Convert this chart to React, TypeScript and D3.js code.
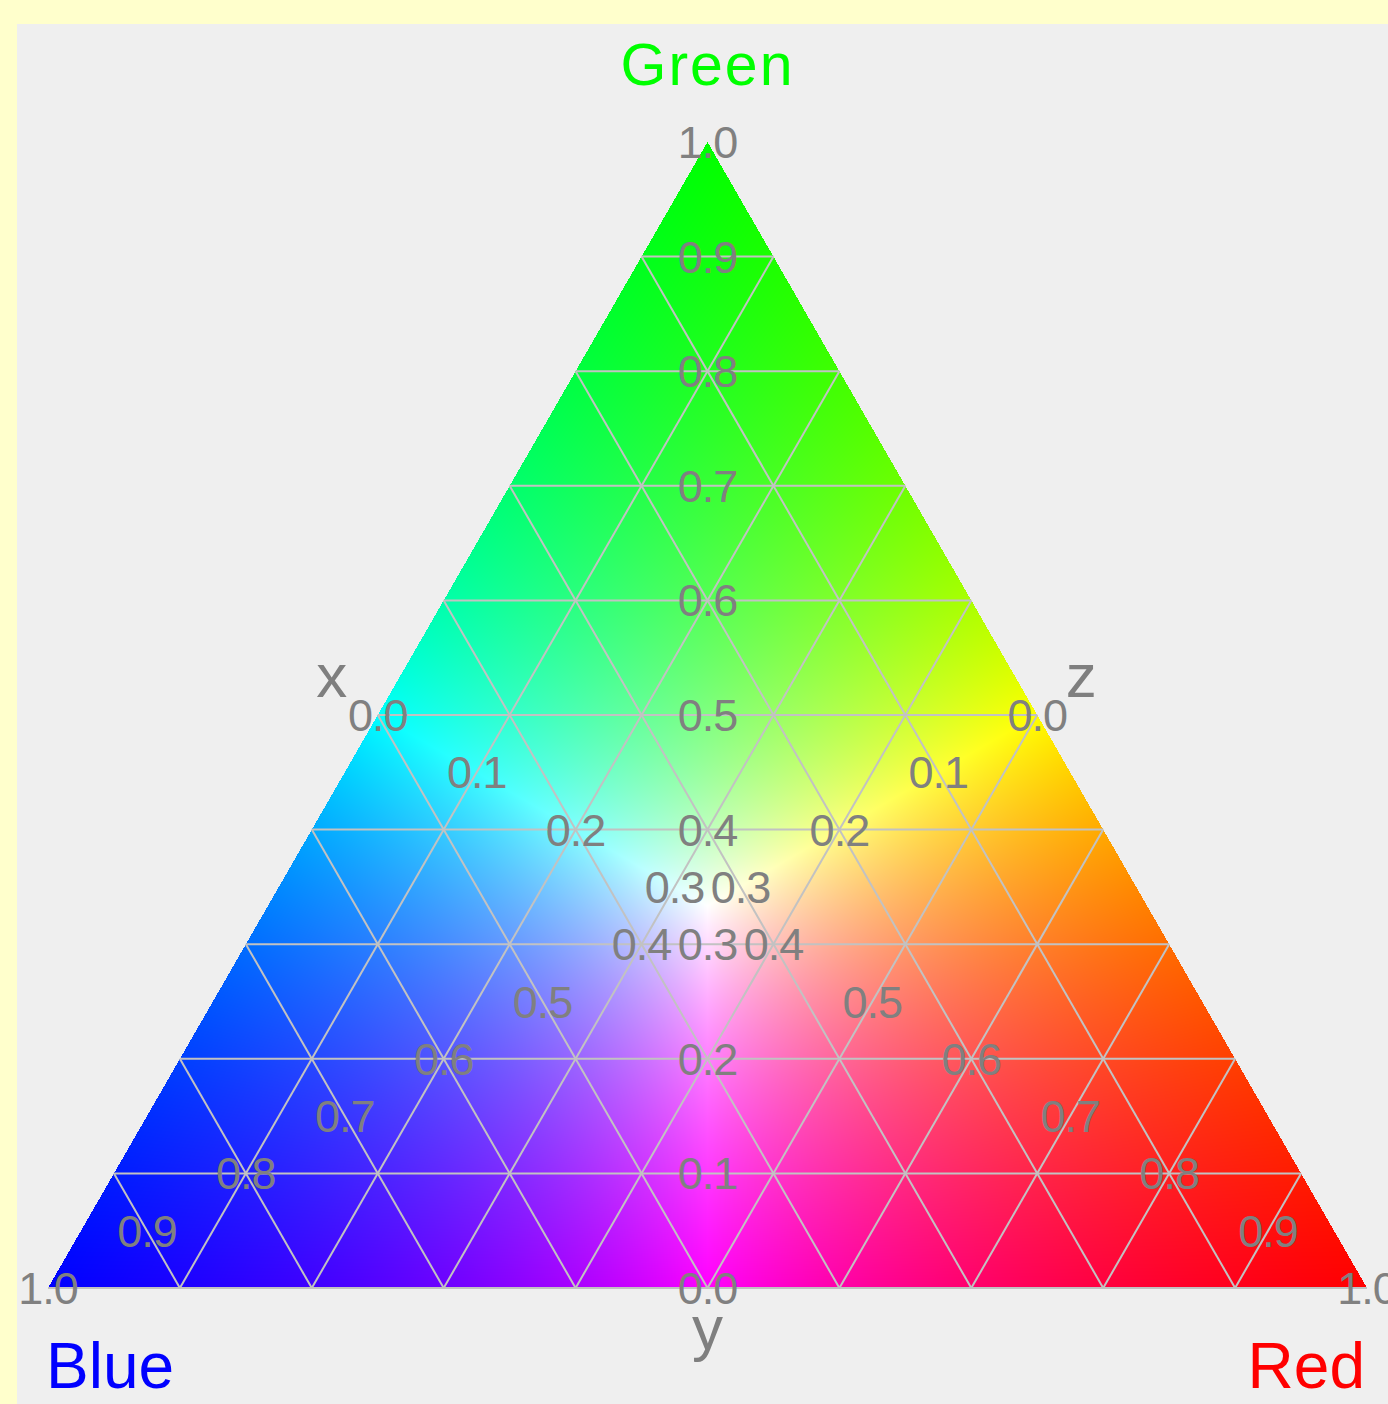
import React, { useMemo } from 'react';
import * as d3 from 'd3';

// tick values shared by the three axes
const tickValues = [0, 0.1, 0.2, 0.3, 0.4, 0.5, 0.6, 0.7, 0.8, 0.9, 1.0];
// grid levels for the three families of lines
const gridLevels = [0.1, 0.2, 0.3, 0.4, 0.5, 0.6, 0.7, 0.8, 0.9];
// corner names: blue bottom-left, red bottom-right, green top
const cornerNames = ['Blue', 'Red', 'Green'];
const cornerColors = ['#0000ff', '#ff0000', '#00ff00'];
const axisNames = ['x', 'y', 'z'];

const WIDTH = 1388;
const HEIGHT = 1404;

// ternary frame: r + g/2 along the bottom, g upward
const xScale = d3.scaleLinear().domain([0, 1]).range([48, 1367]);
const yScale = d3.scaleLinear().domain([0, 1]).range([1288, 142]);

const project = (r: number, g: number, b: number): [number, number] => [xScale(r + g / 2), yScale(g)];

const GRID = '#c2c2c2';
const LABEL = '#808080';
const FONT = '"Liberation Sans", Arial, Helvetica, sans-serif';

function useTriangleImage() {
  return useMemo(() => {
    const x0 = Math.floor(xScale(0));
    const x1 = Math.ceil(xScale(1));
    const y0 = Math.floor(yScale(1));
    const y1 = Math.ceil(yScale(0));
    const w = x1 - x0;
    const h = y1 - y0;
    const canvas = document.createElement('canvas');
    canvas.width = w;
    canvas.height = h;
    const ctx = canvas.getContext('2d');
    if (!ctx) return null;
    const img = ctx.createImageData(w, h);
    for (let j = 0; j < h; j++) {
      const g = yScale.invert(y0 + j + 0.5);
      for (let i = 0; i < w; i++) {
        const r = xScale.invert(x0 + i + 0.5) - g / 2;
        const b = 1 - r - g;
        const k = (j * w + i) * 4;
        if (r < 0 || g < 0 || b < 0) {
          img.data[k + 3] = 0;
          continue;
        }
        const m = Math.max(r, g, b);
        img.data[k] = Math.round((r / m) * 255);
        img.data[k + 1] = Math.round((g / m) * 255);
        img.data[k + 2] = Math.round((b / m) * 255);
        img.data[k + 3] = 255;
      }
    }
    ctx.putImageData(img, 0, 0);
    return { href: canvas.toDataURL(), x: x0, y: y0, w, h };
  }, []);
}

const App = () => {
  const tri = useTriangleImage();

  // grid segments
  const lines: [number, number, number, number][] = [];
  const bottomA = project(0, 0, 1);
  const bottomB = project(1, 0, 0);
  lines.push([bottomA[0], bottomA[1], bottomB[0], bottomB[1]]);
  gridLevels.forEach(t => {
    const a = project(0, t, 1 - t), b = project(1 - t, t, 0);
    lines.push([a[0], a[1], b[0], b[1]]);
    const c = project(1 - t, 0, t), d = project(0, 1 - t, t);
    lines.push([c[0], c[1], d[0], d[1]]);
    const e = project(t, 0, 1 - t), f = project(t, 1 - t, 0);
    lines.push([e[0], e[1], f[0], f[1]]);
  });

  // tick label placement along the medians
  const onRedMedian = (v: number) => project(v, (1 - v) / 2, (1 - v) / 2);
  const onBlueMedian = (v: number) => project((1 - v) / 2, (1 - v) / 2, v);
  const onGreenMedian = (v: number) => project((1 - v) / 2, v, (1 - v) / 2);

  const ticks: { key: string; pos: [number, number]; text: string }[] = [];
  tickValues.forEach(v => {
    const text = v.toFixed(1);
    ticks.push({ key: 'x' + text, pos: v <= 0.3 ? onRedMedian(v) : onBlueMedian(v), text });
    ticks.push({ key: 'y' + text, pos: onGreenMedian(v), text });
    ticks.push({ key: 'z' + text, pos: v <= 0.3 ? onBlueMedian(v) : onRedMedian(v), text });
  });

  const xTitle = onRedMedian(0);
  const zTitle = onBlueMedian(0);
  const yTitle = onGreenMedian(0);

  const pts = [project(0, 0, 1), project(1, 0, 0), project(0, 1, 0)];

  return (
    <div style={{ position: 'absolute', left: 0, top: 0 }}>
      <svg width={WIDTH} height={HEIGHT} style={{ display: 'block' }}>
        <rect x={0} y={0} width={WIDTH} height={HEIGHT} fill="#ffffcc" />
        <rect x={17} y={24} width={WIDTH - 17} height={HEIGHT - 24} fill="#efefef" />
        {tri && <image href={tri.href} x={tri.x} y={tri.y} width={tri.w} height={tri.h} />}
        {lines.map((l, i) => (
          <line key={i} x1={l[0]} y1={l[1]} x2={l[2]} y2={l[3]} stroke={GRID} strokeWidth={2} />
        ))}
        {ticks.map(t => (
          <text
            key={t.key}
            x={t.pos[0]}
            y={t.pos[1] + 16}
            textAnchor="middle"
            fontFamily={FONT}
            fontSize={45}
            fill={LABEL}
            letterSpacing={-1}
          >
            {t.text}
          </text>
        ))}
        <text x={xTitle[0] - 46} y={xTitle[1] - 18} textAnchor="middle" fontFamily={FONT} fontSize={62} fill="#7f7f7f">
          {axisNames[0]}
        </text>
        <text x={yTitle[0]} y={yTitle[1] + 61} textAnchor="middle" fontFamily={FONT} fontSize={62} fill="#7f7f7f">
          {axisNames[1]}
        </text>
        <text x={zTitle[0] + 44} y={zTitle[1] - 18} textAnchor="middle" fontFamily={FONT} fontSize={62} fill="#7f7f7f">
          {axisNames[2]}
        </text>
        <text x={pts[0][0] - 2} y={1388} textAnchor="start" fontFamily={FONT} fontSize={64} fill={cornerColors[0]}>
          {cornerNames[0]}
        </text>
        <text x={pts[1][0] - 2} y={1388} textAnchor="end" fontFamily={FONT} fontSize={64} fill={cornerColors[1]}>
          {cornerNames[1]}
        </text>
        <text x={pts[2][0]} y={85} textAnchor="middle" fontFamily={FONT} fontSize={59} fill={cornerColors[2]} letterSpacing={2}>
          {cornerNames[2]}
        </text>
      </svg>
    </div>
  );
};

export default App;
